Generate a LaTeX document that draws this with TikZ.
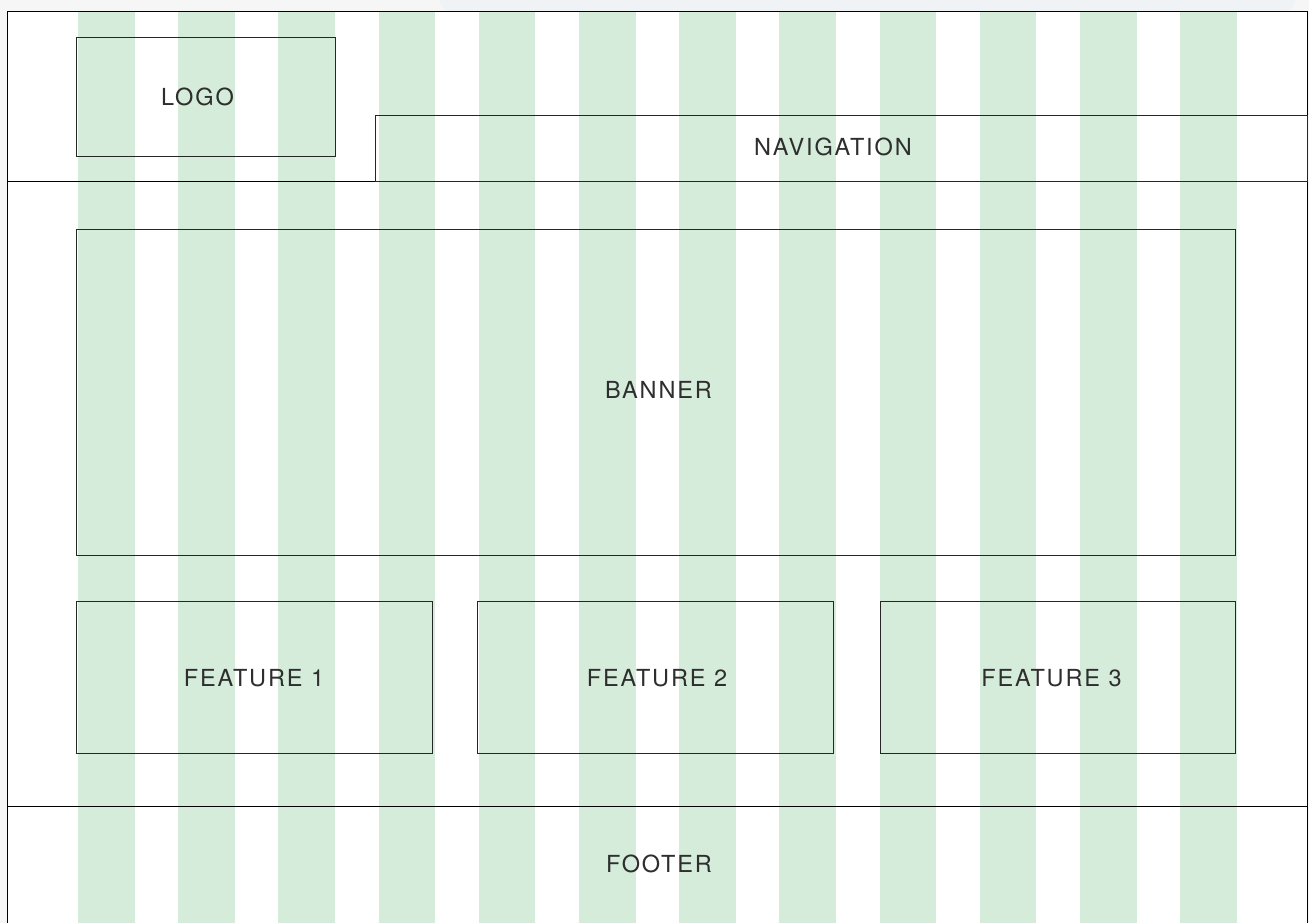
\documentclass[tikz,border=0pt]{standalone}
\usepackage{fontspec}
\setmainfont[LetterSpace=8]{TeX Gyre Heros}
\definecolor{gridgreen}{HTML}{D4ECD9}
\definecolor{pagegray}{HTML}{F6F6F6}
\definecolor{hazeblue}{HTML}{EFF3F6}
\definecolor{inkgray}{HTML}{2E2E2E}
\begin{document}
\begin{tikzpicture}[x=1pt,y=-1pt]

\def\colw{56.5}
\def\colp{100.2}

\tikzstyle{col} = [fill=gridgreen,draw=none];
\tikzstyle{bnode} = [draw=black!85,line width=0.8pt,inner sep=0pt,outer sep=0pt,anchor=north west];
\tikzstyle{lnode} = [text=inkgray,font=\fontsize{23.5}{28}\selectfont,inner sep=0pt];

\useasboundingbox (0,0) rectangle (1309,923);
\clip (0,0) rectangle (1309,923);

% page background
\fill [pagegray] (0,0) rectangle (1309,923);
\fill [hazeblue,rounded corners=12pt] (440,-10) rectangle (1295,12);
\fill [white] (7,12) rectangle (1307,940);

% grid columns
\fill [col] (78+0*\colp,12) rectangle ++(\colw,930);
\fill [col] (78+1*\colp,12) rectangle ++(\colw,930);
\fill [col] (78+2*\colp,12) rectangle ++(\colw,930);
\fill [col] (78+3*\colp,12) rectangle ++(\colw,930);
\fill [col] (78+4*\colp,12) rectangle ++(\colw,930);
\fill [col] (78+5*\colp,12) rectangle ++(\colw,930);
\fill [col] (78+6*\colp,12) rectangle ++(\colw,930);
\fill [col] (78+7*\colp,12) rectangle ++(\colw,930);
\fill [col] (78+8*\colp,12) rectangle ++(\colw,930);
\fill [col] (78+9*\colp,12) rectangle ++(\colw,930);
\fill [col] (78+10*\colp,12) rectangle ++(\colw,930);
\fill [col] (78+11*\colp,12) rectangle ++(\colw,930);

% frame and bands
\node [bnode,draw=black,line width=1pt,minimum width=1300pt,minimum height=940pt] (page) at (7,12) {};
\node [bnode,draw=black,line width=1pt,minimum width=1300pt,minimum height=169pt] (header) at (7,12) {};
\node [bnode,draw=black,line width=1pt,minimum width=1300pt,minimum height=140pt] (footer) at (7,806) {};

% header
\node [bnode,minimum width=259pt,minimum height=119pt] (logo) at (76,37) {};
\node [lnode] (logolabel) at ([xshift=-8pt]logo.center) {LOGO};

\node [bnode,minimum width=932pt,minimum height=66pt] (nav) at (375,115) {};
\node [lnode] (navlabel) at ([xshift=-8pt,yshift=1pt]nav.center) {NAVIGATION};

% body
\node [bnode,minimum width=1159pt,minimum height=326pt] (banner) at (76,229) {};
\node [lnode] (bannerlabel) at ([xshift=3pt,yshift=2pt]banner.center) {BANNER};

\node [bnode,minimum width=356pt,minimum height=152pt] (feat1) at (76,601) {};
\node [lnode] (feat1label) at ([yshift=-1pt]feat1.center) {FEATURE 1};

\node [bnode,anchor=west,minimum width=356pt,minimum height=152pt] (feat2) at ([xshift=45pt]feat1.east) {};
\node [lnode] (feat2label) at ([xshift=2pt,yshift=-1pt]feat2.center) {FEATURE 2};

\node [bnode,anchor=west,minimum width=355pt,minimum height=152pt] (feat3) at ([xshift=47pt]feat2.east) {};
\node [lnode] (feat3label) at ([xshift=-6pt,yshift=-1pt]feat3.center) {FEATURE 3};

% footer
\node [lnode] (footerlabel) at (659,864) {FOOTER};

\end{tikzpicture}
\end{document}
